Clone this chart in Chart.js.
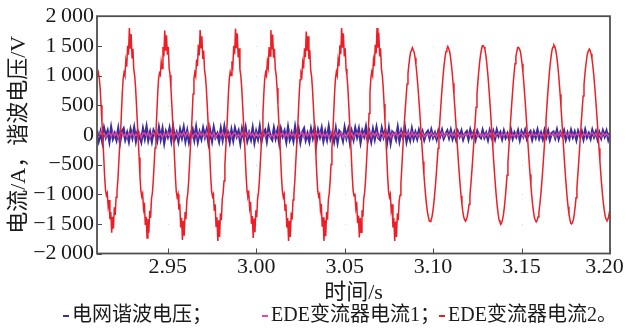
<!DOCTYPE html>
<html>
<head>
<meta charset="utf-8">
<script src="https://cdn.jsdelivr.net/npm/chart.js@4.4.1/dist/chart.umd.min.js"></script>
<style>
  html, body { margin: 0; padding: 0; background: #fff; }
  #wrap { width: 626px; height: 328px; }
</style>
</head>
<body>
<div id="wrap"><canvas id="myChart" width="626" height="328"></canvas></div>
<script>
// 坐标轴
const xMin = 2.91, xMax = 3.20;
const xTicks = [2.95, 3.00, 3.05, 3.10, 3.15, 3.20];
const yTicks = [-2000, -1500, -1000, -500, 0, 500, 1000, 1500, 2000];

// 图例文字
const seriesNames = ['电网谐波电压；', 'EDE变流器电流1；', 'EDE变流器电流2。'];

// 电网谐波电压 / EDE变流器电流1 (采样间隔 1 ms)
const noiseStart = 2.910, noiseStep = 0.001;
const harmVolt = [
  70, -90, 40, -110, 100, -30, 60, -100, 110, -60,
  20, -80, 90, -120, 50, 100, -70, 30, -100, 80,
  -40, 110, -90, 60, -20, -110, 90, -50, 120, -80,
  40, -100, 70, 10, -90, 110, -60, 90, -120, 50,
  -30, 100, -80, 120, -60, 30, -100, 80, -40, 110,
  -90, 60, -110, 20, 90, -70, 110, -100, 40, -60,
  100, -30, 80, -120, 60, -90, 110, -40, 20, -100,
  90, -70, 120, -50, 30, -110, 70, -80, 100, -20,
  60, -120, 90, -40, 110, -90, 30, -70, 100, -110,
  50, -60, 120, -100, 40, 80, -90, 110, -30, -80,
  100, -50, 70, -120, 90, -20, 60, -100, 110, -70,
  30, -90, 120, -60, 80, -110, 40, 100, -80, 20,
  -100, 90, -40, 110, -120, 70, -30, 100, -90, 50,
  -70, 120, -60, 30, -100, 90, -110, 60, 20, -90,
  110, -40, 80, -120, 50, -70, 100, -30, 90, -110,
  60, -20, 120, -90, 40, -100, 80, -60, 110, -50,
  -80, 100, -30, 70, -110, 90, -120, 50, 20, -70,
  110, -90, 60, -40, 120, -100, 30, -80, 90, -60,
  40, -60, 70, -30, 50, -75, 20, 60, -50, 75,
  -40, 30, -70, 60, -20, 75, -55, 10, 65, -45,
  70, -60, 35, -75, 50, -25, 60, -70, 20, 55,
  -65, 75, -30, 45, -70, 60, -15, -50, 70, -40,
  30, -75, 65, -35, 55, -60, 75, -20, 40, -65,
  60, -45, 20, -70, 75, -55, 35, -30, 65, -75,
  50, -25, 70, -60, 15, 55, -70, 45, -40, 75,
  -55, 30, -65, 70, -35, 60, -75, 25, 50, -45,
  75, -60, 40, -20, 65, -70, 30, -55, 70, -35,
  45, -75, 60, -15, 55, -65, 75, -40, 25, -60,
  70, -30, 50, -70, 35, -50, 65, -25, 60, -70,
  40
];
const cur1 = [
  20, -30, 40, -10, 30, -40, 10, 35, -25, 45,
  -20, 30, -45, 15, 40, -30, 20, -40, 35, -15,
  45, -35, 10, -25, 40, -45, 25, 30, -20, 40,
  -40, 15, 35, -30, 45, -10, 20, -45, 30, -25,
  40, -20, 45, -35, 10, 30, -40, 25, -15, 45,
  -30, 40, -20, 35, -45, 15, 30, -35, 40, -10,
  25, -40, 45, -25, 20, -30, 40, -45, 10, 35,
  -20, 45, -35, 30, -15, 40, -40, 20, 35, -30,
  10, -45, 40, -20, 30, -35, 45, -10, 25, -40,
  35, -25, 15, -40, 45, -30, 20, 40, -35, 10,
  -45, 30, -20, 40, -10, 35, -40, 25, -30, 45,
  -15, 20, -35, 45, -25, 10, 40, -45, 30, -20,
  40, -30, 25, -40, 35, -15, 45, -35, 20, -25,
  30, -45, 15, 35, -20, 40, -30, 10, 45, -40,
  20, -35, 40, -25, 30, -45, 15, 35, -10, 45,
  -30, 25, -40, 20, 45, -35, 30, -15, 40, -45,
  10, 35, -25, 40, -30, 20, -45, 30, -20, 45,
  -35, 15, 40, -40, 25, -10, 35, -30, 45, -20,
  25, -30, 15, -20, 30, -35, 10, 25, -15, 35,
  -25, 20, -35, 30, -10, 35, -30, 15, 25, -20,
  30, -15, 20, -35, 35, -25, 10, -30, 25, -10,
  35, -30, 20, -15, 30, -35, 25, -20, 15, -30,
  20, -25, 35, -10, 30, -30, 15, 25, -35, 20,
  -15, 30, -25, 35, -20, 10, -30, 35, -25, 15,
  30, -35, 20, -10, 25, -30, 35, -15, 10, -25,
  35, -20, 15, -35, 30, -25, 20, -10, 30, -35,
  25, -15, 35, -30, 10, 20, -25, 35, -20, 15,
  -30, 25, -10, 35, -35, 20, -15, 30, -25, 10,
  35, -20, 25, -35, 15, -30, 30, -10, 20, -25,
  15
];

// EDE变流器电流2 (采样间隔 0.5 ms)
const cur2Start = 2.9103, cur2Step = 0.0005;
const cur2 = [
  1000, 1050, 950, 780, 500, 210, -60, -370, -690, -930, -1020, -980, -1200, -1100, -1420, -1300, -1650, -1380, -1580, -1220, -1350, -1050, -950, -760, -480, -200,
  20, 360, 700, 950, 1050, 1000, 1250, 1150, 1500, 1350, 1800, 1450, 1700, 1300, 1450, 1100, 1000, 800, 520, 220,
  -60, -380, -700, -940, -1040, -990, -1240, -1140, -1520, -1380, -1740, -1420, -1650, -1280, -1400, -1080, -980, -780, -500, -220,
  30, 350, 690, 940, 1040, 1010, 1230, 1120, 1480, 1320, 1760, 1420, 1680, 1350, 1480, 1120, 1010, 790, 510, 210,
  -50, -370, -690, -950, -1050, -1000, -1260, -1160, -1560, -1400, -1770, -1450, -1700, -1300, -1420, -1100, -990, -790, -500, -210,
  10, 340, 690, 950, 1050, 990, 1270, 1160, 1520, 1340, 1765, 1470, 1660, 1280, 1420, 1090, 990, 790, 510, 210,
  -60, -380, -710, -960, -1040, -1000, -1280, -1170, -1540, -1390, -1790, -1440, -1720, -1320, -1440, -1090, -980, -780, -500, -220,
  20, 360, 700, 950, 1060, 1000, 1240, 1160, 1500, 1360, 1790, 1460, 1710, 1310, 1460, 1100, 1000, 800, 520, 220,
  -50, -370, -690, -940, -1040, -990, -1230, -1130, -1500, -1370, -1740, -1410, -1640, -1270, -1390, -1070, -970, -770, -490, -210,
  20, 350, 690, 940, 1050, 1000, 1230, 1140, 1480, 1330, 1765, 1440, 1690, 1300, 1450, 1110, 1000, 790, 510, 210,
  -60, -380, -710, -950, -1050, -1000, -1270, -1170, -1560, -1400, -1790, -1450, -1720, -1310, -1430, -1100, -990, -790, -500, -220,
  20, 350, 680, 930, 1040, 990, 1220, 1120, 1460, 1310, 1740, 1420, 1660, 1280, 1430, 1090, 990, 780, 500, 200,
  -60, -370, -700, -950, -1040, -1000, -1260, -1160, -1550, -1390, -1790, -1440, -1710, -1300, -1430, -1090, -980, -780, -500, -220,
  20, 360, 700, 950, 1060, 1000, 1260, 1160, 1510, 1360, 1800, 1470, 1710, 1320, 1460, 1110, 1000, 800, 520, 220,
  -60, -370, -700, -940, -1030, -990, -1230, -1130, -1490, -1360, -1730, -1400, -1640, -1270, -1380, -1070, -970, -770, -490, -210,
  20, 360, 700, 950, 1060, 1000, 1260, 1160, 1520, 1370, 1800, 1470, 1720, 1320, 1460, 1110, 1000, 800, 520, 220,
  -60, -370, -700, -950, -1050, -1000, -1270, -1170, -1560, -1400, -1790, -1460, -1720, -1320, -1440, -1120, -1020, -820, -560, -280,
  0, 228, 451, 663, 858, 1032, 1181, 1301, 1400, 1425, 1470, 1430, 1395, 1301, 1181, 1032, 858, 663, 451, 228,
  0, -228, -451, -663, -858, -1032, -1181, -1301, -1380, -1450, -1460, -1435, -1395, -1301, -1181, -1032, -858, -663, -451, -228,
  0, 231, 457, 672, 870, 1046, 1197, 1319, 1407, 1450, 1490, 1455, 1410, 1319, 1197, 1046, 870, 672, 457, 231,
  0, -226, -448, -658, -853, -1025, -1173, -1292, -1385, -1425, -1455, -1430, -1379, -1292, -1173, -1025, -853, -658, -448, -226,
  0, 236, 467, 686, 888, 1068, 1222, 1345, 1430, 1500, 1505, 1480, 1440, 1345, 1222, 1068, 888, 686, 467, 236,
  0, -234, -464, -681, -882, -1061, -1214, -1337, -1435, -1475, -1505, -1480, -1420, -1337, -1214, -1061, -882, -681, -464, -234,
  0, 231, 457, 672, 870, 1046, 1197, 1319, 1400, 1470, 1475, 1450, 1410, 1319, 1197, 1046, 870, 672, 457, 231,
  0, -229, -453, -665, -861, -1036, -1185, -1305, -1400, -1440, -1470, -1445, -1385, -1305, -1185, -1036, -861, -665, -453, -229,
  0, 236, 467, 686, 888, 1068, 1222, 1345, 1440, 1480, 1515, 1490, 1430, 1345, 1222, 1068, 888, 686, 467, 236,
  0, -234, -464, -681, -882, -1061, -1214, -1337, -1420, -1490, -1500, -1475, -1430, -1337, -1214, -1061, -882, -681, -464, -234,
  0, 225, 445, 654, 847, 1018, 1165, 1283, 1375, 1415, 1445, 1420, 1365, 1283, 1165, 1018, 847, 654, 445, 225,
  0, -225, -445, -654, -847, -1018, -1165, -1283, -1375, -1420, -1440, -1423, -1369, -1283
];

const fontFam = '"Liberation Serif", "Noto Sans CJK SC", serif';
const textCol = '#1a1a1a';

function toPoints(arr, t0, dt) {
  return arr.map((v, i) => ({ x: t0 + i * dt, y: v }));
}

function fmtY(v) {
  const a = Math.abs(v);
  let s = a >= 1000 ? Math.floor(a / 1000) + '\u2009' + String(a % 1000).padStart(3, '0') : String(a);
  return (v < 0 ? '\u2212' : '') + s;
}

// 边框 + 内向刻度
const framePlugin = {
  id: 'frame',
  afterDatasetsDraw(chart) {
    const { ctx, chartArea: a, scales: { x, y } } = chart;
    ctx.save();
    ctx.fillStyle = 'rgba(170,195,225,0.6)';
    x.ticks.forEach(tx => {
      y.ticks.forEach(ty => {
        ctx.fillRect(Math.round(x.getPixelForValue(tx.value)), Math.round(y.getPixelForValue(ty.value)), 1, 1);
      });
    });
    ctx.strokeStyle = '#4a4a4a';
    ctx.lineWidth = 1;
    y.ticks.forEach(t => {
      const py = Math.round(y.getPixelForValue(t.value)) + 0.5;
      ctx.beginPath(); ctx.moveTo(a.left, py); ctx.lineTo(a.left + 5, py); ctx.stroke();
    });
    x.ticks.forEach(t => {
      const px = Math.round(x.getPixelForValue(t.value)) + 0.5;
      ctx.beginPath(); ctx.moveTo(px, a.bottom); ctx.lineTo(px, a.bottom - 5); ctx.stroke();
    });
    ctx.lineWidth = 1.8;
    ctx.strokeStyle = '#505050';
    ctx.strokeRect(a.left, a.top, a.right - a.left, a.bottom - a.top);
    ctx.restore();
  }
};

// 图例 (画在底部)
const legendXs = [63, 262, 439];
const legendPlugin = {
  id: 'legendRow',
  afterDraw(chart) {
    const ctx = chart.ctx;
    ctx.save();
    ctx.font = '20px ' + fontFam;
    ctx.textBaseline = 'middle';
    const yy = 316;
    chart.data.datasets.slice().reverse().forEach((ds, k) => {
      const x0 = legendXs[k];
      ctx.strokeStyle = ds.borderColor;
      ctx.lineWidth = 2;
      ctx.beginPath(); ctx.moveTo(x0, yy); ctx.lineTo(x0 + 6, yy); ctx.stroke();
      ctx.fillStyle = textCol;
      ctx.fillText(ds.label, x0 + 9, yy);
    });
    ctx.restore();
  }
};

const ctx = document.getElementById('myChart').getContext('2d');
const myChart = new Chart(ctx, {
  type: 'line',
  data: {
    datasets: [
      { label: seriesNames[2], data: toPoints(cur2, cur2Start, cur2Step), borderColor: 'rgb(236,30,38)', borderWidth: 1.5 },
      { label: seriesNames[1], data: toPoints(cur1, noiseStart, noiseStep), borderColor: '#e4479c', borderWidth: 1.4 },
      { label: seriesNames[0], data: toPoints(harmVolt, noiseStart, noiseStep), borderColor: '#3b2d9e', borderWidth: 2.6 }
    ]
  },
  options: {
    responsive: false,
    animation: false,
    parsing: false,
    normalized: true,
    elements: { point: { radius: 0 }, line: { tension: 0 } },
    layout: { padding: { top: 14, right: 16, bottom: 22, left: 0 } },
    plugins: { legend: { display: false }, tooltip: { enabled: false } },
    scales: {
      x: {
        type: 'linear',
        min: xMin,
        max: xMax,
        afterBuildTicks: s => { s.ticks = xTicks.map(v => ({ value: v })); },
        afterFit: s => { s.height = 52.5; s.paddingLeft = 0; s.paddingRight = 0; },
        grid: { display: false, drawTicks: false },
        border: { display: false },
        ticks: {
          autoSkip: false, maxRotation: 0, padding: 1, color: textCol,
          font: { family: fontFam, size: 22 },
          callback: v => (v === 3.2 ? '3.20\u2002' : v.toFixed(2))
        },
        title: { display: true, text: '时间/s', color: textCol, font: { family: fontFam, size: 22 }, padding: { top: 0, bottom: 0 } }
      },
      y: {
        min: -2000,
        max: 2000,
        afterBuildTicks: s => { s.ticks = yTicks.map(v => ({ value: v })); },
        afterFit: s => { s.width = 97; },
        grid: { display: false, drawTicks: false },
        border: { display: false },
        ticks: { padding: 3, color: textCol, font: { family: fontFam, size: 22 }, callback: v => fmtY(v) },
        title: { display: true, text: '电流/A，谐波电压/V', color: textCol, font: { family: fontFam, size: 22 }, padding: { top: 6, bottom: 0 } }
      }
    }
  },
  plugins: [framePlugin, legendPlugin]
});
</script>
</body>
</html>
